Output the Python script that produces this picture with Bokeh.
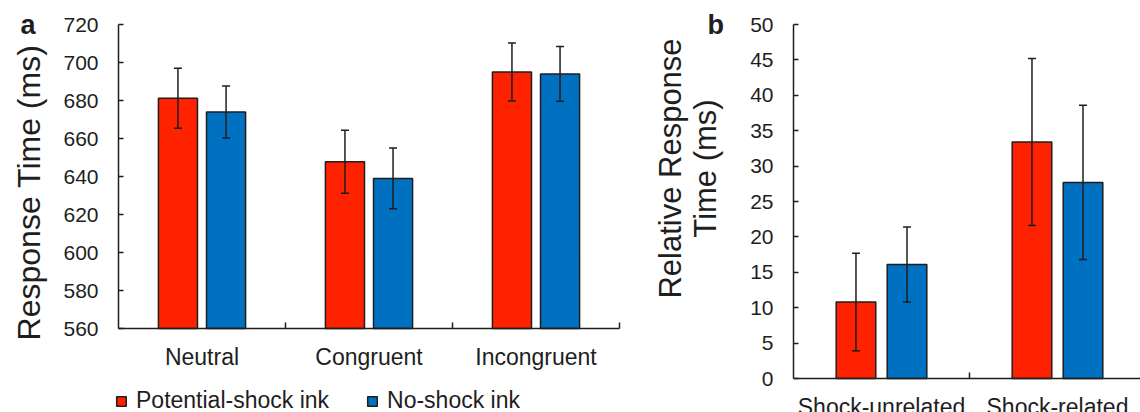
import numpy as np
from bokeh.plotting import figure
from bokeh.models import (ColumnDataSource, Range1d, FixedTicker, Whisker, TeeHead,
                          Legend, LegendItem, Label)
from bokeh.layouts import row
from bokeh.embed import file_html
from bokeh.resources import INLINE

# ---------------- data ----------------
conditions_a = ["Neutral", "Congruent", "Incongruent"]
shock_a = [681.2, 647.8, 695.0]
shock_a_err = [15.8, 16.6, 15.3]
noshock_a = [673.9, 639.0, 694.0]
noshock_a_err = [13.7, 16.0, 14.4]
yticks_a = [560, 580, 600, 620, 640, 660, 680, 700, 720]
ylabel_a = "Response Time (ms)"

conditions_b = ["Shock-unrelated", "Shock-related"]
shock_b = [10.8, 33.4]
shock_b_err = [6.9, 11.8]
noshock_b = [16.1, 27.7]
noshock_b_err = [5.3, 10.9]
yticks_b = [0, 5, 10, 15, 20, 25, 30, 35, 40, 45, 50]
ylabel_b = ["Relative Response", "Time (ms)"]

series_names = ["Potential-shock ink", "No-shock ink"]
panel_letters = ["a", "b"]

RED = "#FF2200"
BLUE = "#0070C0"
INK = "#1e1e1e"
FONT = "Liberation Sans"
H = 412


def make_fig(width, left_px, x_units_px, n_cat_span, y_lo, y_hi, top_px, bottom_px):
    """Frame covers the full canvas; axes drawn at fixed data locations."""
    y_scale = (bottom_px - top_px) / (y_hi - y_lo)
    xr = Range1d(-left_px / x_units_px, (width - left_px) / x_units_px)
    yr = Range1d(y_lo - (H - bottom_px) / y_scale, y_hi + top_px / y_scale)
    p = figure(width=width, height=H, output_backend="svg", toolbar_location=None,
               x_range=xr, y_range=yr, min_border=0)
    p.outline_line_color = None
    p.xgrid.visible = False
    p.ygrid.visible = False
    p.background_fill_color = "white"
    p.border_fill_color = "white"
    for ax in (p.xaxis[0], p.yaxis[0]):
        ax.axis_line_color = INK
        ax.axis_line_width = 1.5
        ax.major_tick_line_color = INK
        ax.minor_tick_line_color = INK
        ax.major_tick_line_width = 1.5
        ax.minor_tick_line_width = 1.5
        ax.major_label_text_font = FONT
        ax.major_label_text_color = INK
    p.xaxis[0].fixed_location = y_lo
    p.yaxis[0].fixed_location = 0
    p.xaxis[0].bounds = (0, n_cat_span)
    p.yaxis[0].bounds = (y_lo, y_hi)
    return p


def bars(p, n, base, s_vals, s_err, n_vals, n_err, width, off):
    centers = np.arange(n) + 0.5
    rends = []
    for vals, errs, col, sign in ((s_vals, s_err, RED, -1), (n_vals, n_err, BLUE, 1)):
        v = np.array(vals, dtype=float)
        e = np.array(errs, dtype=float)
        src = ColumnDataSource(dict(x=centers + sign * off, top=v, up=v + e, lo=v - e))
        r = p.vbar(x="x", top="top", bottom=base, width=width, source=src,
                   fill_color=col, line_color=INK, line_width=1.5)
        rends.append(r)
        w = Whisker(source=src, base="x", upper="up", lower="lo", line_color=INK, line_width=1.5,
                    upper_head=TeeHead(size=8, line_color=INK, line_width=1.5),
                    lower_head=TeeHead(size=8, line_color=INK, line_width=1.5),
                    level="annotation")
        p.add_layout(w)
    return rends


# ---------------- panel a ----------------
pa = make_fig(640, 118, 167.0, 3, yticks_a[0], yticks_a[-1], 24, 328)
ra = bars(pa, 3, yticks_a[0], shock_a, shock_a_err, noshock_a, noshock_a_err, 0.234, 0.144)

pa.xaxis[0].ticker = FixedTicker(ticks=list(np.arange(3) + 0.5), minor_ticks=[1, 2, 3])
pa.xaxis[0].major_label_overrides = {float(i + 0.5): c for i, c in enumerate(conditions_a)}
pa.xaxis[0].major_tick_in = 0
pa.xaxis[0].major_tick_out = 0
pa.xaxis[0].minor_tick_in = 6
pa.xaxis[0].minor_tick_out = 0
pa.xaxis[0].major_label_text_font_size = "23px"
pa.xaxis[0].major_label_standoff = 15

pa.yaxis[0].ticker = FixedTicker(ticks=yticks_a, minor_ticks=[])
pa.yaxis[0].major_tick_in = 5
pa.yaxis[0].major_tick_out = 0
pa.yaxis[0].major_label_text_font_size = "21px"
pa.yaxis[0].major_label_standoff = 20

pa.add_layout(Label(x=28, y=H - 192, x_units="screen", y_units="screen", text=ylabel_a,
                    angle=np.pi / 2, text_align="center", text_baseline="middle",
                    text_font=FONT, text_font_size="32px", text_color=INK))

legend = Legend(items=[LegendItem(label=series_names[0], renderers=[ra[0]]),
                       LegendItem(label=series_names[1], renderers=[ra[1]])],
                location=(115, -2), orientation="horizontal",
                glyph_width=12, glyph_height=12, label_standoff=9, spacing=37,
                padding=0, margin=0, border_line_color=None, background_fill_alpha=0,
                label_text_font=FONT, label_text_font_size="23px", label_text_color=INK)
pa.add_layout(legend)

pa.add_layout(Label(x=20, y=H - 39, x_units="screen", y_units="screen", text=panel_letters[0],
                    text_font=FONT, text_font_size="27px", text_font_style="bold",
                    text_color=INK))

# ---------------- panel b ----------------
pb = make_fig(500, 153, 176.0, 2, yticks_b[0], yticks_b[-1], 24, 378)
rb = bars(pb, 2, yticks_b[0], shock_b, shock_b_err, noshock_b, noshock_b_err, 0.225, 0.145)

pb.xaxis[0].ticker = FixedTicker(ticks=[0.5, 1.5], minor_ticks=[1, 2])
pb.xaxis[0].major_label_overrides = {float(i + 0.5): c for i, c in enumerate(conditions_b)}
pb.xaxis[0].major_label_text_font_size = "23px"
pb.xaxis[0].major_label_standoff = 15
pb.xaxis[0].major_tick_in = 0
pb.xaxis[0].major_tick_out = 0
pb.xaxis[0].minor_tick_in = 6
pb.xaxis[0].minor_tick_out = 0

pb.yaxis[0].ticker = FixedTicker(ticks=yticks_b, minor_ticks=[])
pb.yaxis[0].major_tick_in = 5
pb.yaxis[0].major_tick_out = 0
pb.yaxis[0].major_label_text_font_size = "21px"
pb.yaxis[0].major_label_standoff = 20

for i, line in enumerate(ylabel_b):
    pb.add_layout(Label(x=30 + i * 35, y=H - 168, x_units="screen", y_units="screen",
                        text=line, angle=np.pi / 2, text_align="center",
                        text_baseline="middle", text_font=FONT, text_font_size="31px",
                        text_color=INK))

pb.add_layout(Label(x=67, y=H - 39, x_units="screen", y_units="screen", text=panel_letters[1],
                    text_font=FONT, text_font_size="27px", text_font_style="bold",
                    text_color=INK))

layout = row(pa, pb)
open("out.html", "w").write(file_html(layout, INLINE))
